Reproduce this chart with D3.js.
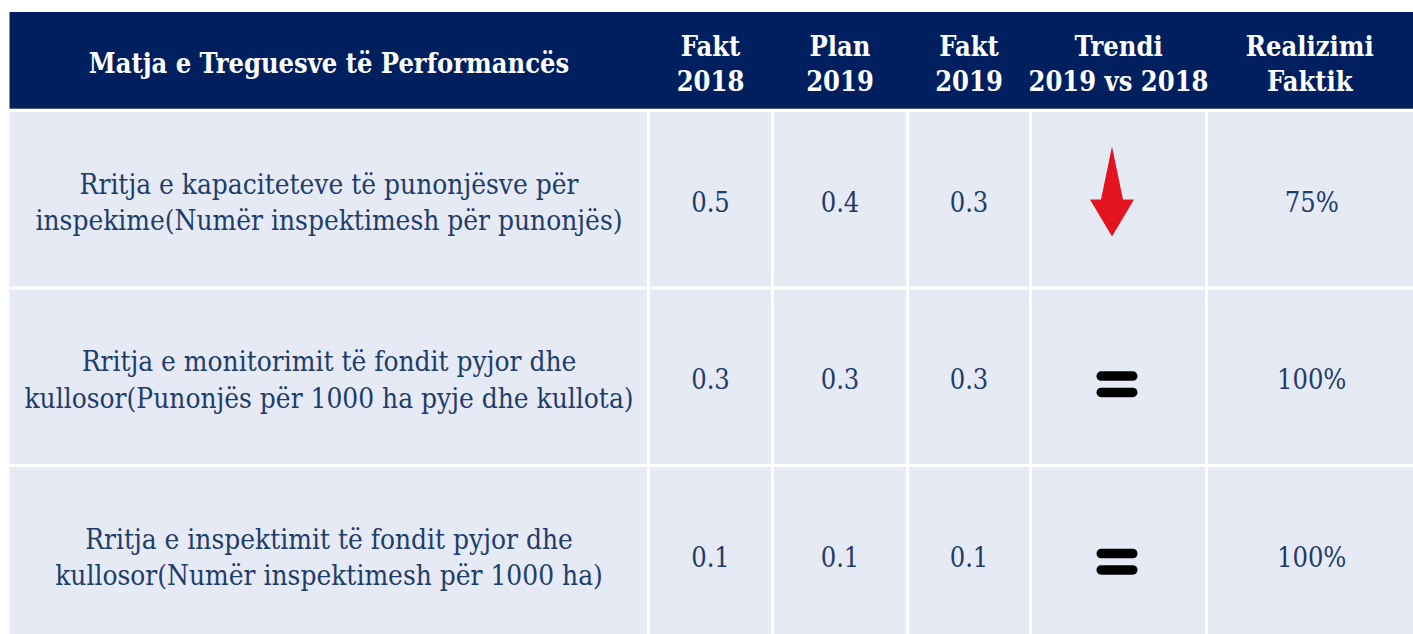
<!DOCTYPE html>
<meta charset="utf-8">
<style>

body {
  margin: 0;
  background: #fff;
}

.head text {
  fill: #fff;
  font-family: "DejaVu Serif Condensed", "DejaVu Serif", serif;
  font-stretch: condensed;
  font-weight: bold;
  font-size: 27px;
  text-anchor: middle;
}

.cell text {
  fill: #1f3d6b;
  font-family: "DejaVu Serif Condensed", "DejaVu Serif", serif;
  font-stretch: condensed;
  text-anchor: middle;
}

</style>
<body>
<script src="https://d3js.org/d3.v7.min.js"></script>
<script>

// header labels, one array of lines per column
var headers = [
  ["Matja e Treguesve të Performancës"],
  ["Fakt", "2018"],
  ["Plan", "2019"],
  ["Fakt", "2019"],
  ["Trendi", "2019 vs 2018"],
  ["Realizimi", "Faktik"]
];

var indicators = [
  ["Rritja e kapaciteteve të punonjësve për", "inspekime(Numër inspektimesh për punonjës)"],
  ["Rritja e monitorimit të fondit pyjor dhe", "kullosor(Punonjës për 1000 ha pyje dhe kullota)"],
  ["Rritja e inspektimit të fondit pyjor dhe", "kullosor(Numër inspektimesh për 1000 ha)"]
];

var fakt2018 = [0.5, 0.3, 0.1];
var plan2019 = [0.4, 0.3, 0.1];
var fakt2019 = [0.3, 0.3, 0.1];
var trend = ["down", "equal", "equal"];
var realizimi = ["75%", "100%", "100%"];

var width = 1413,
    height = 634;

// column edges of the table
var edges = [9.5, 648.5, 772.5, 907.5, 1030.5, 1206.5, 1413];
var gap = 3;

var svg = d3.select("body").append("svg")
    .attr("width", width)
    .attr("height", height);

var rows = d3.scaleBand()
    .domain(d3.range(indicators.length))
    .range([112, 112 + 177.5 * 3 - 3])
    .paddingInner(3 / 177.5);

var ncol = headers.length;
function colLeft(i) { return edges[i] + (i > 0 ? gap / 2 : 0); }
function colRight(i) { return edges[i + 1] - (i < ncol - 1 ? gap / 2 : 0); }
function colMid(i) { return (edges[i] + edges[i + 1]) / 2; }

// header band
var head = svg.append("g").attr("class", "head");
head.append("rect")
    .attr("x", edges[0])
    .attr("y", 12)
    .attr("width", width - edges[0])
    .attr("height", 96.7)
    .attr("fill", "#001f5f");

var headMid = 63, lineH = 35, capHalf = 10.2;
head.selectAll("text")
  .data(headers).enter()
  .append("text")
    .attr("x", function(d, i) { return colMid(i); })
  .selectAll("tspan")
    .data(function(d) { return d; }).enter()
  .append("tspan")
    .attr("x", function() { return d3.select(this.parentNode).attr("x"); })
    .attr("y", function(d, j, nodes) {
      return headMid - (nodes.length - 1) * lineH / 2 + j * lineH + capHalf;
    })
    .text(function(d) { return d; });

// body cells
var rowData = indicators.map(function(t, i) {
  return [
    {col: 0, kind: "text", lines: t},
    {col: 1, kind: "value", v: fakt2018[i]},
    {col: 2, kind: "value", v: plan2019[i]},
    {col: 3, kind: "value", v: fakt2019[i]},
    {col: 4, kind: "trend", v: trend[i]},
    {col: 5, kind: "value", v: realizimi[i]}
  ];
});

var row = svg.selectAll(".row")
  .data(rowData).enter()
  .append("g")
    .attr("class", "row")
    .attr("transform", function(d, i) { return "translate(0," + rows(i) + ")"; });

var cell = row.selectAll(".cell")
  .data(function(d) { return d; }).enter()
  .append("g")
    .attr("class", "cell");

var bh = rows.bandwidth(),
    mid = bh / 2 + 2.6;

cell.append("rect")
    .attr("x", function(d) { return colLeft(d.col); })
    .attr("width", function(d) { return colRight(d.col) - colLeft(d.col); })
    .attr("height", bh)
    .attr("fill", "#e6eaf5");

cell.filter(function(d) { return d.kind === "text"; })
  .append("text")
    .style("font-size", "27.8px")
  .selectAll("tspan")
    .data(function(d) { return d.lines; }).enter()
  .append("tspan")
    .attr("x", colMid(0))
    .attr("y", function(d, j, nodes) {
      return mid - (nodes.length - 1) * 36.5 / 2 + j * 36.5 + capHalf;
    })
    .text(function(d) { return d; });

cell.filter(function(d) { return d.kind === "value"; })
  .append("text")
    .style("font-size", "27px")
    .attr("x", function(d) { return colMid(d.col) + (d.col === 5 ? 2 : 0); })
    .attr("y", mid + 10)
    .text(function(d) { return typeof d.v === "number" ? d3.format(".1f")(d.v) : d.v; });

// trend glyphs
var tx = colMid(4);

cell.filter(function(d) { return d.kind === "trend" && d.v === "down"; })
  .append("path")
    .attr("transform", "translate(" + (tx - 6.5) + "," + (mid - 10.3) + ")")
    .attr("d", "M0,-45L11,8L22,8L0,45L-22,8L-11,8Z")
    .attr("fill", "#e3141f");

var eq = cell.filter(function(d) { return d.kind === "trend" && d.v === "equal"; })
  .append("g")
    .attr("transform", "translate(" + (tx - 1.5) + "," + (mid + 5) + ")");

eq.selectAll("rect")
  .data([-13, 3.3]).enter()
  .append("rect")
    .attr("x", -20.5)
    .attr("y", function(d) { return d; })
    .attr("width", 41)
    .attr("height", 9.5)
    .attr("rx", 4.7)
    .attr("fill", "#000");

</script>
